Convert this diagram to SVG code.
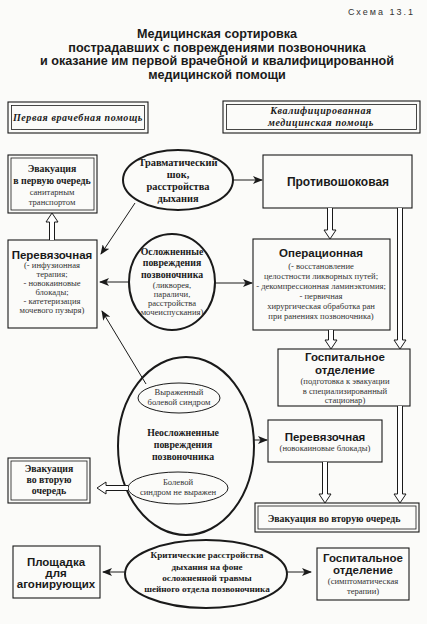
<svg xmlns="http://www.w3.org/2000/svg" width="427" height="624" viewBox="0 0 427 624">
<defs>
<marker id="ah" markerWidth="10" markerHeight="8" refX="9" refY="4" orient="auto" markerUnits="userSpaceOnUse">
<path d="M0,0 L10,4 L0,8 L2.5,4 Z" fill="#1a1a1a"/>
</marker>
<style>
.bg{fill:#fbfbf9}
.box{fill:none;stroke:#1a1a1a;stroke-width:1.1}
.boxi{fill:none;stroke:#1a1a1a;stroke-width:0.8}
.ell{fill:none;stroke:#1a1a1a;stroke-width:2}
.ell2{fill:none;stroke:#1a1a1a;stroke-width:1}
.hol{fill:#fff;stroke:#1a1a1a;stroke-width:1}
.ln{fill:none;stroke:#1a1a1a;stroke-width:1;marker-end:url(#ah)}
.ttl{font-family:"Liberation Sans",Arial,sans-serif;font-weight:bold;font-size:12.6px;fill:#1a1a1a;text-anchor:middle}
.hd{font-family:"Liberation Sans",Arial,sans-serif;font-weight:bold;font-size:11.5px;fill:#1a1a1a;text-anchor:middle}
.sb{font-family:"Liberation Serif","Times New Roman",serif;font-weight:bold;font-size:9.8px;fill:#1a1a1a;text-anchor:middle}
.si{font-family:"Liberation Serif","Times New Roman",serif;font-weight:bold;font-style:italic;font-size:10px;letter-spacing:0.6px;fill:#1a1a1a;text-anchor:middle}
.sm{font-family:"Liberation Serif","Times New Roman",serif;font-size:8.6px;fill:#333;text-anchor:middle}
</style>
</defs>
<rect class="bg" x="0" y="0" width="427" height="624"/>
<text x="415" y="15" font-family="Liberation Sans,Arial,sans-serif" font-size="9px" fill="#333" text-anchor="end" letter-spacing="2">Схема 13.1</text>
<g id="title">
<text class="ttl" x="217" y="38">Медицинская сортировка</text>
<text class="ttl" x="217" y="51.5">пострадавших с повреждениями позвоночника</text>
<text class="ttl" x="217" y="65">и оказание им первой врачебной и квалифицированной</text>
<text class="ttl" x="217" y="78.5">медицинской помощи</text>
</g>
<g id="hdr-left">
<rect class="box" x="8" y="102" width="140" height="31"/>
<rect class="boxi" x="11.5" y="105.5" width="133" height="24"/>
<text class="si" x="78" y="121">Первая врачебная помощь</text>
</g>
<g id="hdr-right">
<rect class="box" x="223" y="101" width="197" height="32"/>
<rect class="boxi" x="226.5" y="104.5" width="190" height="25"/>
<text class="si" x="321" y="114">Квалифицированная</text>
<text class="si" x="321" y="126">медицинская помощь</text>
</g>
<g id="evac1">
<rect class="box" x="8" y="155" width="89" height="58"/>
<rect class="boxi" x="11" y="158" width="83" height="52"/>
<text class="sb" x="52" y="172">Эвакуация</text>
<text class="sb" x="52" y="184">в первую очередь</text>
<text class="sm" x="52" y="195">санитарным</text>
<text class="sm" x="52" y="205">транспортом</text>
</g>
<g id="shock">
<ellipse class="ell" cx="178" cy="180" rx="55" ry="30"/>
<text class="sb" x="178" y="166" style="font-size:10.4px">Травматический</text>
<text class="sb" x="178" y="178" style="font-size:10.4px">шок,</text>
<text class="sb" x="178" y="190" style="font-size:10.4px">расстройства</text>
<text class="sb" x="178" y="202" style="font-size:10.4px">дыхания</text>
</g>
<g id="antishock">
<rect class="box" x="263" y="155" width="149" height="53"/>
<text class="hd" x="338" y="186" style="font-size:12px">Противошоковая</text>
</g>
<g id="dress1">
<rect class="box" x="8" y="240" width="89" height="88"/>
<text class="hd" x="52" y="259">Перевязочная</text>
<text class="sm" x="52" y="268">(- инфузионная</text>
<text class="sm" x="52" y="277">терапия;</text>
<text class="sm" x="52" y="286">- новокаиновые</text>
<text class="sm" x="52" y="295">блокады;</text>
<text class="sm" x="52" y="304">- катетеризация</text>
<text class="sm" x="52" y="313">мочевого пузыря)</text>
</g>
<g id="complicated">
<ellipse class="ell" cx="172" cy="282" rx="43" ry="48"/>
<text class="sb" x="172" y="255">Осложненные</text>
<text class="sb" x="172" y="266">повреждения</text>
<text class="sb" x="172" y="278">позвоночника</text>
<text class="sm" x="172" y="288">(ликворея,</text>
<text class="sm" x="172" y="297">параличи,</text>
<text class="sm" x="172" y="306">расстройства</text>
<text class="sm" x="172" y="315">мочеиспускания)</text>
</g>
<g id="operating">
<rect class="box" x="253" y="239" width="137" height="91"/>
<text class="hd" x="321" y="257">Операционная</text>
<text class="sm" x="321" y="269">(- восстановление</text>
<text class="sm" x="321" y="279">целостности ликворных путей;</text>
<text class="sm" x="321" y="289">- декомпрессионная ламинэктомия;</text>
<text class="sm" x="321" y="299">- первичная</text>
<text class="sm" x="321" y="309">хирургическая обработка ран</text>
<text class="sm" x="321" y="319">при ранениях позвоночника)</text>
</g>
<g id="hospital1">
<rect class="box" x="278" y="349" width="132" height="57"/>
<text class="hd" x="345" y="361">Госпитальное</text>
<text class="hd" x="345" y="373.5">отделение</text>
<text class="sm" x="345" y="384">(подготовка к эвакуации</text>
<text class="sm" x="345" y="393.5">в специализированный</text>
<text class="sm" x="345" y="403">стационар)</text>
</g>
<g id="uncomplicated">
<ellipse class="ell" cx="186" cy="446" rx="68" ry="89"/>
<text class="sb" x="183" y="436">Неосложненные</text>
<text class="sb" x="183" y="448">повреждения</text>
<text class="sb" x="183" y="460">позвоночника</text>
</g>
<g id="pain-yes">
<ellipse class="ell2" cx="179" cy="398" rx="41" ry="15"/>
<text class="sm" x="179" y="395">Выраженный</text>
<text class="sm" x="179" y="405">болевой синдром</text>
</g>
<g id="pain-no">
<ellipse class="ell2" cx="178" cy="488" rx="50" ry="16"/>
<text class="sm" x="178" y="485">Болевой</text>
<text class="sm" x="178" y="495">синдром не выражен</text>
</g>
<g id="dress2">
<rect class="box" x="268" y="420" width="114" height="42"/>
<text class="hd" x="325" y="441">Перевязочная</text>
<text class="sm" x="325" y="451">(новокаиновые блокады)</text>
</g>
<g id="evac2-left">
<rect class="box" x="8" y="458" width="82" height="45"/>
<rect class="boxi" x="11" y="461" width="76" height="39"/>
<text class="sb" x="49" y="472">Эвакуация</text>
<text class="sb" x="49" y="483">во вторую</text>
<text class="sb" x="49" y="494">очередь</text>
</g>
<g id="evac2-right">
<rect class="box" x="255" y="503" width="164" height="29"/>
<rect class="boxi" x="258" y="506" width="158" height="23"/>
<text class="sb" x="334" y="522">Эвакуация во вторую очередь</text>
</g>
<g id="agony">
<rect class="box" x="13" y="546" width="87" height="52"/>
<text class="hd" x="56" y="566">Площадка</text>
<text class="hd" x="56" y="577">для</text>
<text class="hd" x="56" y="588">агонирующих</text>
</g>
<g id="critical">
<ellipse class="ell" cx="206" cy="574" rx="81" ry="34"/>
<text class="sb" x="207" y="558" style="font-size:9.2px">Критические расстройства</text>
<text class="sb" x="207" y="570" style="font-size:9.2px">дыхания на фоне</text>
<text class="sb" x="207" y="581" style="font-size:9.2px">осложненной травмы</text>
<text class="sb" x="207" y="592" style="font-size:9.2px">шейного отдела позвоночника</text>
</g>
<g id="hospital2">
<rect class="box" x="317" y="548" width="92" height="52"/>
<text class="hd" x="363" y="562">Госпитальное</text>
<text class="hd" x="363" y="574">отделение</text>
<text class="sm" x="363" y="584">(симптоматическая</text>
<text class="sm" x="363" y="594">терапии)</text>
</g>
<g id="connectors">
<line class="ln" x1="233" y1="180" x2="262" y2="180"/>
<line class="ln" x1="135" y1="203" x2="101" y2="254"/>
<line class="ln" x1="129" y1="282" x2="100" y2="282"/>
<line class="ln" x1="215" y1="283" x2="252" y2="283"/>
<line class="ln" x1="146" y1="384" x2="102" y2="311"/>
<line class="ln" x1="254" y1="440" x2="267" y2="440"/>
<line class="ln" x1="125" y1="572" x2="103" y2="572"/>
<line class="ln" x1="287" y1="572" x2="311" y2="572"/>
<path class="hol" d="M49.5,240 V222 H46 L52,213 L58,222 H54.5 V240"/>
<path class="hol" d="M327.5,208 V230 H324 L330,239 L336,230 H332.5 V208"/>
<path class="hol" d="M328.5,330 V340 H325 L331,349 L337,340 H333.5 V330"/>
<path class="hol" d="M397.5,208 V340 H394 L400,349 L406,340 H402.5 V208"/>
<path class="hol" d="M397.5,406 V494 H394 L400,503 L406,494 H402.5 V406"/>
<path class="hol" d="M322.5,462 V494 H319 L325,503 L331,494 H327.5 V462"/>
<path class="hol" d="M128,485.5 H106 V482 L97,488 L106,494 V490.5 H128"/>
</g>
</svg>
